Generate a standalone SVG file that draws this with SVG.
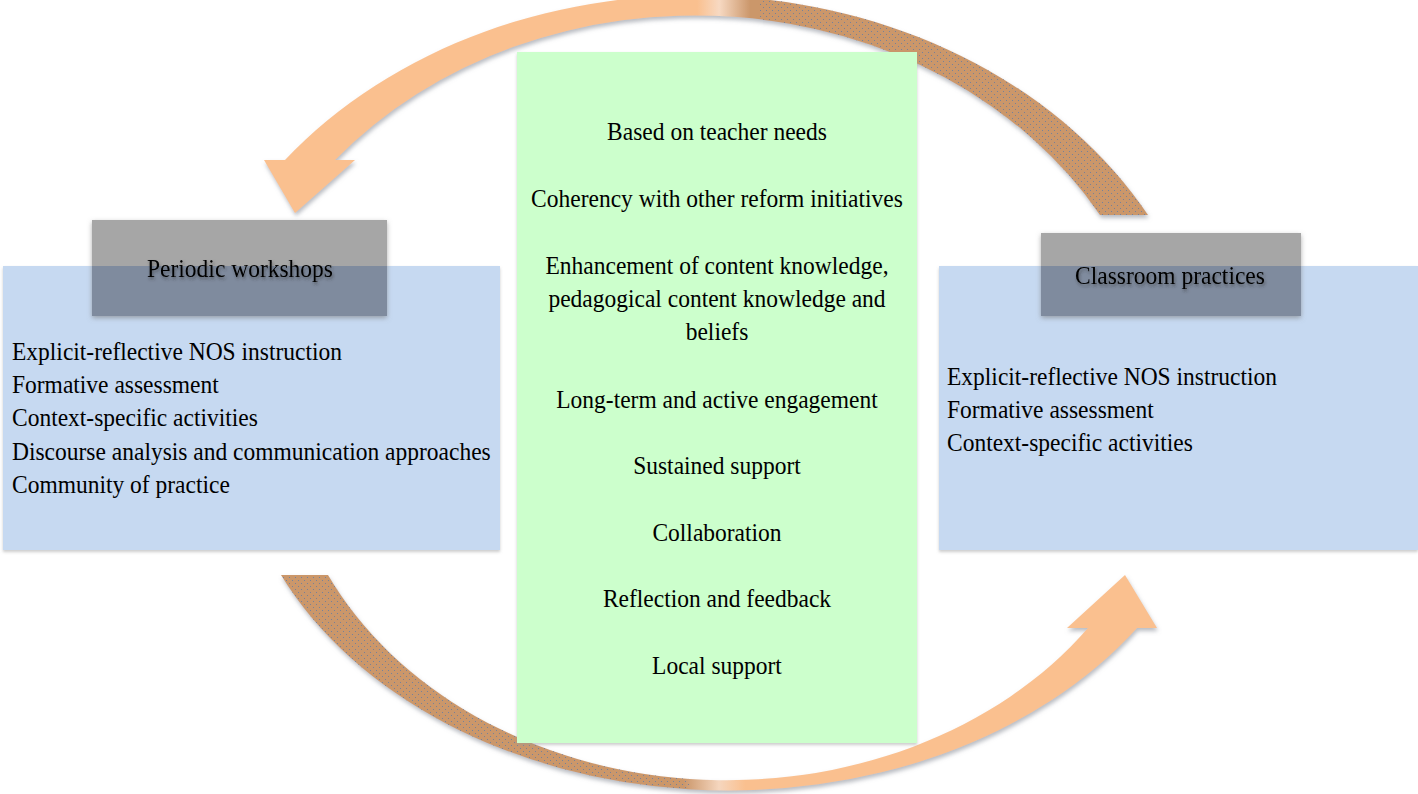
<svg xmlns="http://www.w3.org/2000/svg" width="1418" height="794" viewBox="0 0 1418 794">
  <style>
    .t { font-family: "Liberation Serif", "Times New Roman", serif; font-size: 23.5px; fill: #000; }
    .c { text-anchor: middle; }
    .hdr { font-family: "Liberation Serif", "Times New Roman", serif; font-size: 23.5px; fill: #000; text-anchor: middle; filter: url(#tshadow); }
    .blue { fill: #C6D9F1; filter: url(#bshadow); }
    .green { fill: #CCFFCC; filter: url(#bshadow); }
  </style>
  <defs>
    <linearGradient id="gTop" gradientUnits="userSpaceOnUse" x1="264" y1="0" x2="1148" y2="0">
      <stop offset="0" stop-color="#FAC08F"/>
      <stop offset="0.49" stop-color="#FAC08F"/>
      <stop offset="0.515" stop-color="#F7D9C2"/>
      <stop offset="0.55" stop-color="#CB976B"/>
      <stop offset="1" stop-color="#CB976B"/>
    </linearGradient>
    <linearGradient id="gBot" gradientUnits="userSpaceOnUse" x1="281" y1="0" x2="1157" y2="0">
      <stop offset="0" stop-color="#CB976B"/>
      <stop offset="0.46" stop-color="#CB976B"/>
      <stop offset="0.5" stop-color="#F5D6BE"/>
      <stop offset="0.53" stop-color="#FAC08F"/>
      <stop offset="1" stop-color="#FAC08F"/>
    </linearGradient>
    <pattern id="dots" width="6" height="6" patternUnits="userSpaceOnUse">
      <rect x="1" y="1" width="1" height="1" fill="#5F7CA6" opacity="0.8"/>
      <rect x="4" y="4" width="1" height="1" fill="#5F7CA6" opacity="0.8"/>
    </pattern>
    <clipPath id="clipRight"><rect x="760" y="0" width="660" height="300"/></clipPath>
    <clipPath id="clipLeft"><rect x="0" y="500" width="690" height="300"/></clipPath>
    <filter id="ashadow" x="-10%" y="-10%" width="120%" height="130%">
      <feDropShadow dx="1" dy="3" stdDeviation="2" flood-color="#8A8F99" flood-opacity="0.6"/>
    </filter>
    <filter id="bshadow" x="-5%" y="-5%" width="110%" height="115%">
      <feDropShadow dx="0" dy="2" stdDeviation="1.5" flood-color="#999" flood-opacity="0.5"/>
    </filter>
    <filter id="hshadow" x="-10%" y="-10%" width="120%" height="130%">
      <feDropShadow dx="0" dy="2" stdDeviation="2.5" flood-color="#777" flood-opacity="0.6"/>
    </filter>
    <filter id="tshadow" x="-10%" y="-30%" width="120%" height="170%">
      <feDropShadow dx="1" dy="2" stdDeviation="1.5" flood-color="#333" flood-opacity="0.55"/>
    </filter>
  </defs>

  <g id="connectors">
    <g id="arrow-top" filter="url(#ashadow)">
      <path d="M 1148,215 A 518 425 0 0 0 285,160 L 264,160 L 295,213 L 355,160 L 335,160 A 470 405 0 0 1 1100,215 Z" fill="url(#gTop)"/>
      <path d="M 1148,215 A 518 425 0 0 0 285,160 L 264,160 L 295,213 L 355,160 L 335,160 A 470 405 0 0 1 1100,215 Z" fill="url(#dots)" clip-path="url(#clipRight)"/>
    </g>
    <g id="arrow-bottom" filter="url(#ashadow)">
      <path d="M 281,575 L 328,575 A 442 360 0 0 0 1088,628 L 1067,628 L 1125,575 L 1157,628 L 1137,628 A 493 370 0 0 1 281,575 Z" fill="url(#gBot)"/>
      <path d="M 281,575 L 328,575 A 442 360 0 0 0 1088,628 L 1067,628 L 1125,575 L 1157,628 L 1137,628 A 493 370 0 0 1 281,575 Z" fill="url(#dots)" clip-path="url(#clipLeft)"/>
    </g>
  </g>

  <g id="periodic-workshops">
    <rect class="blue" x="3" y="266" width="497" height="284"/>
    <g filter="url(#hshadow)">
      <rect x="92" y="220" width="295" height="46" fill="#A6A6A6"/>
      <rect x="92" y="266" width="295" height="50" fill="#7F8B9E"/>
    </g>
    <text class="hdr" transform="translate(240,277) scale(1,1.1)">Periodic workshops</text>
    <text class="t" transform="translate(12,360) scale(1,1.1)">Explicit-reflective NOS instruction</text>
    <text class="t" transform="translate(12,393) scale(1,1.1)">Formative assessment</text>
    <text class="t" transform="translate(12,426) scale(1,1.1)">Context-specific activities</text>
    <text class="t" transform="translate(12,460) scale(1,1.1)">Discourse analysis and communication approaches</text>
    <text class="t" transform="translate(12,493) scale(1,1.1)">Community of practice</text>
  </g>

  <g id="classroom-practices">
    <rect class="blue" x="939" y="266" width="479" height="284"/>
    <g filter="url(#hshadow)">
      <rect x="1041" y="233" width="260" height="33" fill="#A6A6A6"/>
      <rect x="1041" y="266" width="260" height="50" fill="#7F8B9E"/>
    </g>
    <text class="hdr" transform="translate(1170,284) scale(1,1.1)">Classroom practices</text>
    <text class="t" transform="translate(947,385) scale(1,1.1)">Explicit-reflective NOS instruction</text>
    <text class="t" transform="translate(947,418) scale(1,1.1)">Formative assessment</text>
    <text class="t" transform="translate(947,451) scale(1,1.1)">Context-specific activities</text>
  </g>

  <g id="features">
    <rect class="green" x="517" y="52" width="400" height="691"/>
    <text class="t c" transform="translate(717,140) scale(1,1.1)">Based on teacher needs</text>
    <text class="t c" transform="translate(717,207) scale(1,1.1)">Coherency with other reform initiatives</text>
    <text class="t c" transform="translate(717,274) scale(1,1.1)">Enhancement of content knowledge,</text>
    <text class="t c" transform="translate(717,307) scale(1,1.1)">pedagogical content knowledge and</text>
    <text class="t c" transform="translate(717,340) scale(1,1.1)">beliefs</text>
    <text class="t c" transform="translate(717,408) scale(1,1.1)">Long-term and active engagement</text>
    <text class="t c" transform="translate(717,474) scale(1,1.1)">Sustained support</text>
    <text class="t c" transform="translate(717,541) scale(1,1.1)">Collaboration</text>
    <text class="t c" transform="translate(717,607) scale(1,1.1)">Reflection and feedback</text>
    <text class="t c" transform="translate(717,674) scale(1,1.1)">Local support</text>
  </g>
</svg>
